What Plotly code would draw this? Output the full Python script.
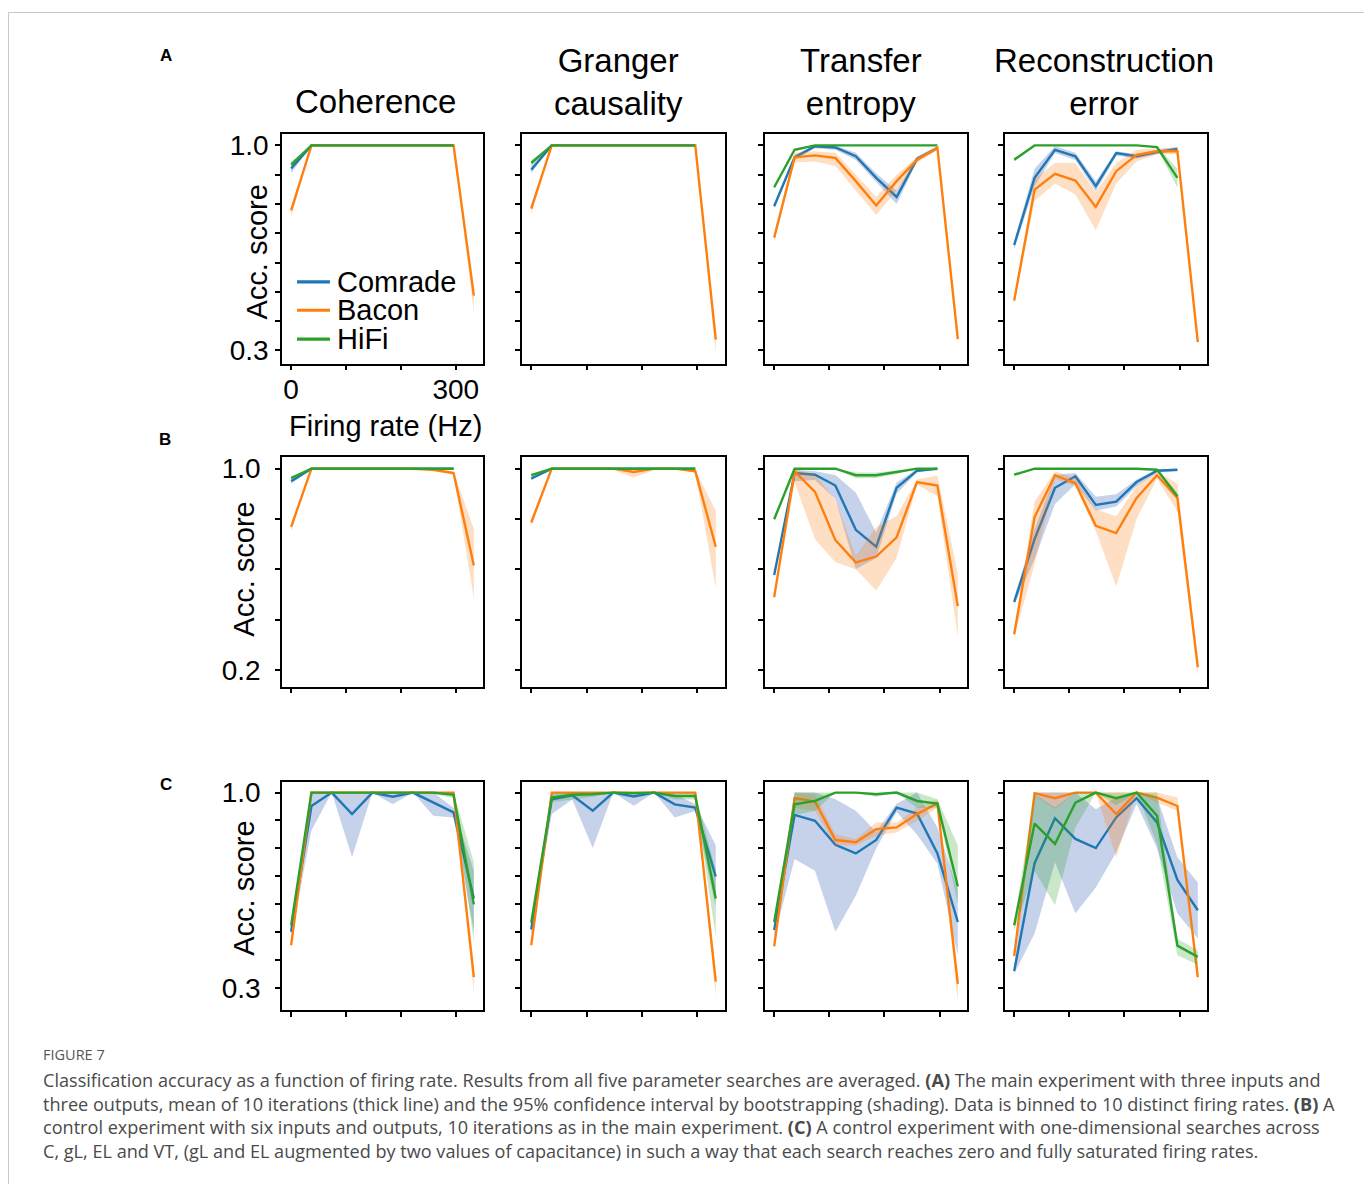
import plotly.graph_objects as go

W, H = 1372, 1184
N = None

# ---------------- data ----------------
FIRING_RATE_HZ = [0, 37, 74, 111, 148, 185, 222, 259, 296, 333]
X_TICKS = [0, 100, 200, 300]
X_TICK_TEXT = ["0", "", "", "300"]
SERIES = ["Comrade", "Bacon", "HiFi"]
COLORS = {"Comrade": "#1f77b4", "Bacon": "#ff7f0e", "HiFi": "#2ca02c"}
BAND_COLORS = {"Comrade": "rgba(50,90,180,0.28)", "Bacon": "rgba(255,127,14,0.25)", "HiFi": "rgba(44,160,44,0.25)"}
COLUMN_TITLES = ["Coherence", "Granger<br>causality", "Transfer<br>entropy", "Reconstruction<br>error"]
ROW_LETTERS = ["A", "B", "C"]
Y_TICKS_A = [0.3, 0.4, 0.5, 0.6, 0.7, 0.8, 0.9, 1.0]
Y_TEXT_A = ["0.3", "", "", "", "", "", "", "1.0"]
Y_TICKS_B = [0.2, 0.4, 0.6, 0.8, 1.0]
Y_TEXT_B = ["0.2", "", "", "", "1.0"]
Y_TICKS_C = [0.3, 0.4, 0.5, 0.6, 0.7, 0.8, 0.9, 1.0]
Y_TEXT_C = ["0.3", "", "", "", "", "", "", "1.0"]

# Row A - main experiment
A_COH_COMRADE    = [0.921, 1, 1, 1, 1, 1, 1, 1, 1, N]
A_COH_COMRADE_LO = [0.905, 1, 1, 1, 1, 1, 1, 1, 1, N]
A_COH_COMRADE_HI = [0.935, 1, 1, 1, 1, 1, 1, 1, 1, N]
A_COH_BACON      = [0.778, 1, 1, 1, 1, 1, 1, 1, 1, 0.487]
A_COH_BACON_LO   = [0.755, 1, 1, 1, 1, 1, 1, 1, 0.995, 0.430]
A_COH_BACON_HI   = [0.790, 1, 1, 1, 1, 1, 1, 1, 1, 0.500]
A_COH_HIFI       = [0.934, 1, 1, 1, 1, 1, 1, 1, 1, N]
A_COH_HIFI_LO    = [0.922, 1, 1, 1, 1, 1, 1, 1, 1, N]
A_COH_HIFI_HI    = [0.945, 1, 1, 1, 1, 1, 1, 1, 1, N]

A_GC_COMRADE    = [0.917, 1, 1, 1, 1, 1, 1, 1, 1, N]
A_GC_COMRADE_LO = [0.905, 1, 1, 1, 1, 1, 1, 1, 1, N]
A_GC_COMRADE_HI = [0.930, 1, 1, 1, 1, 1, 1, 1, 1, N]
A_GC_BACON      = [0.784, 1, 1, 1, 1, 1, 1, 1, 1, 0.337]
A_GC_BACON_LO   = [0.765, 1, 1, 1, 1, 1, 1, 1, 1, 0.289]
A_GC_BACON_HI   = [0.800, 1, 1, 1, 1, 1, 1, 1, 1, 0.360]
A_GC_HIFI       = [0.940, 1, 1, 1, 1, 1, 1, 1, 1, N]
A_GC_HIFI_LO    = [0.930, 1, 1, 1, 1, 1, 1, 1, 1, N]
A_GC_HIFI_HI    = [0.950, 1, 1, 1, 1, 1, 1, 1, 1, N]

A_TE_COMRADE    = [0.792, 0.959, 0.997, 0.993, 0.963, 0.889, 0.824, 0.954, 0.991, N]
A_TE_COMRADE_LO = [0.785, 0.950, 0.990, 0.985, 0.950, 0.875, 0.800, 0.945, 0.985, N]
A_TE_COMRADE_HI = [0.800, 0.967, 1.000, 1.000, 0.975, 0.905, 0.845, 0.962, 0.997, N]
A_TE_BACON      = [0.685, 0.959, 0.966, 0.957, 0.878, 0.795, 0.878, 0.951, 0.991, 0.339]
A_TE_BACON_LO   = [0.675, 0.942, 0.945, 0.930, 0.845, 0.762, 0.845, 0.940, 0.985, 0.330]
A_TE_BACON_HI   = [0.695, 0.975, 0.980, 0.975, 0.900, 0.825, 0.900, 0.960, 0.997, 0.345]
A_TE_HIFI       = [0.857, 0.985, 1.0, 1.0, 1.0, 0.999, 1.0, 1.0, 1.0, N]
A_TE_HIFI_LO    = [0.850, 0.980, 1.0, 1.0, 1.0, 0.997, 1.0, 1.0, 1.0, N]
A_TE_HIFI_HI    = [0.864, 0.990, 1.0, 1.0, 1.0, 1.0, 1.0, 1.0, 1.0, N]

A_RE_COMRADE    = [0.660, 0.889, 0.985, 0.963, 0.861, 0.974, 0.963, 0.977, 0.988, N]
A_RE_COMRADE_LO = [0.645, 0.860, 0.974, 0.950, 0.843, 0.965, 0.955, 0.970, 0.982, N]
A_RE_COMRADE_HI = [0.675, 0.920, 0.997, 0.975, 0.878, 0.980, 0.970, 0.985, 0.995, N]
A_RE_BACON      = [0.470, 0.849, 0.903, 0.880, 0.790, 0.912, 0.968, 0.980, 0.980, 0.328]
A_RE_BACON_LO   = [0.460, 0.810, 0.870, 0.832, 0.710, 0.870, 0.945, 0.970, 0.970, 0.320]
A_RE_BACON_HI   = [0.480, 0.885, 0.940, 0.940, 0.840, 0.940, 0.985, 0.990, 0.990, 0.335]
A_RE_HIFI       = [0.951, 1.0, 1.0, 1.0, 1.0, 1.0, 1.0, 0.994, 0.889, N]
A_RE_HIFI_LO    = [0.945, 1.0, 1.0, 1.0, 1.0, 1.0, 1.0, 0.990, 0.855, N]
A_RE_HIFI_HI    = [0.957, 1.0, 1.0, 1.0, 1.0, 1.0, 1.0, 0.998, 0.920, N]

# Row B - six inputs and outputs
B_COH_COMRADE    = [0.950, 1, 1, 1, 1, 1, 1, 1, 1, N]
B_COH_COMRADE_LO = [0.940, 1, 1, 1, 1, 1, 1, 1, 1, N]
B_COH_COMRADE_HI = [0.960, 1, 1, 1, 1, 1, 1, 1, 1, N]
B_COH_BACON      = [0.769, 1, 1, 1, 1, 1, 1, 0.996, 0.983, 0.615]
B_COH_BACON_LO   = [0.749, 1, 1, 1, 1, 1, 1, 0.990, 0.975, 0.484]
B_COH_BACON_HI   = [0.780, 1, 1, 1, 1, 1, 1, 1.000, 0.990, 0.760]
B_COH_HIFI       = [0.963, 1, 1, 1, 1, 1, 1, 1, 1, N]
B_COH_HIFI_LO    = [0.955, 1, 1, 1, 1, 1, 1, 1, 1, N]
B_COH_HIFI_HI    = [0.970, 1, 1, 1, 1, 1, 1, 1, 1, N]

B_GC_COMRADE    = [0.961, 1, 1, 1, 1, 1, 1, 1, 1, N]
B_GC_COMRADE_LO = [0.953, 1, 1, 1, 1, 1, 1, 1, 1, N]
B_GC_COMRADE_HI = [0.968, 1, 1, 1, 1, 1, 1, 1, 1, N]
B_GC_BACON      = [0.786, 1, 1, 1, 1, 0.987, 1, 1, 0.990, 0.690]
B_GC_BACON_LO   = [0.770, 1, 1, 1, 0.995, 0.965, 0.995, 1, 0.985, 0.523]
B_GC_BACON_HI   = [0.800, 1, 1, 1, 1, 1, 1, 1, 0.995, 0.832]
B_GC_HIFI       = [0.974, 1, 1, 1, 1, 1, 1, 1, 1, N]
B_GC_HIFI_LO    = [0.968, 1, 1, 1, 1, 1, 1, 1, 1, N]
B_GC_HIFI_HI    = [0.980, 1, 1, 1, 1, 1, 1, 1, 1, N]

B_TE_COMRADE    = [0.578, 0.983, 0.976, 0.933, 0.757, 0.690, 0.924, 0.992, 1.0, N]
B_TE_COMRADE_LO = [0.570, 0.950, 0.955, 0.880, 0.600, 0.645, 0.900, 0.985, 1.0, N]
B_TE_COMRADE_HI = [0.585, 0.995, 0.990, 0.975, 0.905, 0.746, 0.945, 0.998, 1.0, N]
B_TE_BACON      = [0.490, 0.989, 0.908, 0.716, 0.628, 0.651, 0.727, 0.947, 0.933, 0.454]
B_TE_BACON_LO   = [0.480, 0.945, 0.720, 0.628, 0.600, 0.515, 0.645, 0.937, 0.890, 0.333]
B_TE_BACON_HI   = [0.500, 1.000, 0.976, 0.876, 0.654, 0.767, 0.812, 0.957, 0.973, 0.583]
B_TE_HIFI       = [0.799, 1.0, 1.0, 1.0, 0.974, 0.974, 0.987, 1.0, 1.0, N]
B_TE_HIFI_LO    = [0.795, 1.0, 1.0, 1.0, 0.962, 0.963, 0.980, 1.0, 1.0, N]
B_TE_HIFI_HI    = [0.805, 1.0, 1.0, 1.0, 0.985, 0.985, 0.993, 1.0, 1.0, N]

B_RE_COMRADE    = [0.471, 0.720, 0.924, 0.970, 0.856, 0.869, 0.947, 0.992, 0.996, N]
B_RE_COMRADE_LO = [0.458, 0.640, 0.860, 0.938, 0.833, 0.850, 0.930, 0.985, 0.990, N]
B_RE_COMRADE_HI = [0.485, 0.760, 0.976, 0.983, 0.888, 0.898, 0.957, 0.998, 1.000, N]
B_RE_BACON      = [0.342, 0.808, 0.974, 0.942, 0.773, 0.744, 0.884, 0.974, 0.884, 0.212]
B_RE_BACON_LO   = [0.330, 0.620, 0.960, 0.930, 0.752, 0.532, 0.800, 0.960, 0.830, 0.175]
B_RE_BACON_HI   = [0.355, 0.870, 0.990, 0.962, 0.840, 0.811, 0.930, 0.990, 0.940, 0.228]
B_RE_HIFI       = [0.976, 1.0, 1.0, 1.0, 1.0, 1.0, 1.0, 0.996, 0.891, N]
B_RE_HIFI_LO    = [0.970, 1.0, 1.0, 1.0, 1.0, 1.0, 1.0, 0.992, 0.878, N]
B_RE_HIFI_HI    = [0.982, 1.0, 1.0, 1.0, 1.0, 1.0, 1.0, 1.000, 0.904, N]

# Row C - one-dimensional searches
C_COH_COMRADE    = [0.501, 0.952, 1.0, 0.923, 1.0, 0.985, 1.0, 0.964, 0.929, 0.620]
C_COH_COMRADE_LO = [0.480, 0.864, 1.0, 0.768, 1.0, 0.958, 1.0, 0.917, 0.911, 0.500]
C_COH_COMRADE_HI = [0.525, 1.000, 1.0, 1.000, 1.0, 1.000, 1.0, 1.000, 0.946, 0.720]
C_COH_BACON      = [0.453, 1, 1, 1, 1, 1, 1, 1, 1, 0.338]
C_COH_BACON_LO   = [0.440, 1, 1, 1, 1, 1, 1, 1, 0.995, 0.280]
C_COH_BACON_HI   = [0.465, 1, 1, 1, 1, 1, 1, 1, 1, 0.360]
C_COH_HIFI       = [0.524, 1, 1, 1, 1, 1, 1, 1, 0.992, 0.599]
C_COH_HIFI_LO    = [0.510, 1, 1, 1, 1, 1, 1, 0.995, 0.980, 0.465]
C_COH_HIFI_HI    = [0.540, 1, 1, 1, 1, 1, 1, 1, 1, 0.750]

C_GC_COMRADE    = [0.509, 0.976, 0.990, 0.935, 1.0, 0.986, 1.0, 0.958, 0.946, 0.699]
C_GC_COMRADE_LO = [0.490, 0.923, 0.975, 0.801, 1.0, 0.953, 1.0, 0.911, 0.934, 0.590]
C_GC_COMRADE_HI = [0.525, 1.000, 1.000, 1.000, 1.0, 1.000, 1.0, 0.995, 0.958, 0.810]
C_GC_BACON      = [0.453, 1, 1, 1, 1, 1, 1, 1, 1, 0.322]
C_GC_BACON_LO   = [0.440, 1, 1, 1, 1, 1, 1, 1, 0.995, 0.270]
C_GC_BACON_HI   = [0.465, 1, 1, 1, 1, 1, 1, 1, 1, 0.350]
C_GC_HIFI       = [0.533, 0.982, 0.992, 0.994, 1.0, 0.998, 1.0, 0.988, 0.988, 0.620]
C_GC_HIFI_LO    = [0.520, 0.965, 0.975, 0.985, 1.0, 0.990, 1.0, 0.975, 0.975, 0.485]
C_GC_HIFI_HI    = [0.548, 0.995, 1.000, 1.000, 1.0, 1.000, 1.0, 0.998, 0.998, 0.720]

C_TE_COMRADE    = [0.507, 0.920, 0.899, 0.813, 0.782, 0.830, 0.946, 0.925, 0.782, 0.536]
C_TE_COMRADE_LO = [0.483, 0.762, 0.720, 0.501, 0.630, 0.800, 0.930, 0.850, 0.745, 0.417]
C_TE_COMRADE_HI = [0.530, 1.000, 1.000, 0.976, 0.935, 0.860, 0.960, 1.000, 0.875, 0.650]
C_TE_BACON      = [0.449, 0.980, 0.968, 0.830, 0.822, 0.869, 0.875, 0.923, 0.961, 0.314]
C_TE_BACON_LO   = [0.440, 0.946, 0.935, 0.810, 0.810, 0.845, 0.857, 0.899, 0.946, 0.250]
C_TE_BACON_HI   = [0.460, 1.000, 0.994, 0.851, 0.834, 0.893, 0.893, 0.946, 0.976, 0.340]
C_TE_HIFI       = [0.536, 0.958, 0.970, 1.0, 1.0, 0.994, 1.0, 0.970, 0.961, 0.663]
C_TE_HIFI_LO    = [0.525, 0.920, 0.935, 1.0, 1.0, 0.985, 1.0, 0.945, 0.946, 0.600]
C_TE_HIFI_HI    = [0.548, 1.000, 1.000, 1.0, 1.0, 1.000, 1.0, 1.000, 0.976, 0.810]

C_RE_COMRADE    = [0.360, 0.747, 0.908, 0.834, 0.801, 0.911, 0.980, 0.893, 0.687, 0.578]
C_RE_COMRADE_LO = [0.350, 0.495, 0.750, 0.566, 0.660, 0.786, 0.960, 0.800, 0.566, 0.477]
C_RE_COMRADE_HI = [0.375, 1.000, 1.000, 1.000, 0.940, 0.982, 0.994, 0.982, 0.768, 0.678]
C_RE_BACON      = [0.414, 0.998, 0.980, 1.0, 1.0, 0.923, 1.0, 0.982, 0.952, 0.338]
C_RE_BACON_LO   = [0.400, 0.990, 0.940, 1.0, 1.0, 0.768, 1.0, 0.964, 0.935, 0.310]
C_RE_BACON_HI   = [0.430, 1.000, 1.000, 1.0, 1.0, 1.000, 1.0, 1.000, 0.982, 0.365]
C_RE_HIFI       = [0.524, 0.889, 0.816, 0.964, 1.0, 0.980, 1.0, 0.917, 0.451, 0.411]
C_RE_HIFI_LO    = [0.505, 0.720, 0.596, 0.875, 1.0, 0.955, 1.0, 0.816, 0.417, 0.383]
C_RE_HIFI_HI    = [0.540, 0.994, 0.947, 1.000, 1.0, 1.000, 1.0, 1.000, 0.475, 0.435]

CAPTION_LABEL = "FIGURE 7"
CAPTION_LINES = [
    "Classification accuracy as a function of firing rate. Results from all five parameter searches are averaged. <b>(A)</b> The main experiment with three inputs and",
    "three outputs, mean of 10 iterations (thick line) and the 95% confidence interval by bootstrapping (shading). Data is binned to 10 distinct firing rates. <b>(B)</b> A",
    "control experiment with six inputs and outputs, 10 iterations as in the main experiment. <b>(C)</b> A control experiment with one-dimensional searches across",
    "C, gL, EL and VT, (gL and EL augmented by two values of capacitance) in such a way that each search reaches zero and fully saturated firing rates.",
]

# ---------------- assembly ----------------
g = globals()
PANEL_KEYS = ["COH", "GC", "TE", "RE"]
SERIES_KEYS = {"Comrade": "COMRADE", "Bacon": "BACON", "HiFi": "HIFI"}

FONT = "Liberation Sans, Arial, sans-serif"
CAP_FONT = "Open Sans, Noto Sans, sans-serif"

# the page body adds an 8px margin; compensate so page pixels match
OFF = 8

def px_x(x):
    return (x - OFF) / W

def px_y(y):
    return 1 - (y - OFF) / H

# layout geometry in page pixels
COL_PX = [(282, 483), (522, 725), (765, 967), (1005, 1207)]
ROW_PX = [(131, 361.7), (456, 686.7), (782.3, 1012.3)]
X_RANGE = [-16.65, 349.65]
Y_RANGES = [[0.255, 1.038], [0.134, 1.045], [0.219, 1.039]]
Y_TICKVALS = [Y_TICKS_A, Y_TICKS_B, Y_TICKS_C]
Y_TICKTEXT = [Y_TEXT_A, Y_TEXT_B, Y_TEXT_C]
Y_STANDOFF = [1, 9, 9]

fig = go.Figure()
axes_layout = {}

for r, letter in enumerate(ROW_LETTERS):
    for c, pk in enumerate(PANEL_KEYS):
        idx = r * 4 + c + 1
        xa = "x" if idx == 1 else f"x{idx}"
        ya = "y" if idx == 1 else f"y{idx}"
        for s in SERIES:
            base = f"{letter}_{pk}_{SERIES_KEYS[s]}"
            mean, lo, hi = g[base], g[base + "_LO"], g[base + "_HI"]
            keep = [i for i, v in enumerate(mean) if v is not None]
            bx = [FIRING_RATE_HZ[i] for i in keep]
            fig.add_trace(go.Scatter(
                x=bx + bx[::-1],
                y=[hi[i] for i in keep] + [lo[i] for i in keep][::-1],
                fill="toself", fillcolor=BAND_COLORS[s], line=dict(width=0),
                mode="lines", hoverinfo="skip", showlegend=False,
                xaxis=xa, yaxis=ya))
            fig.add_trace(go.Scatter(
                x=bx, y=[mean[i] for i in keep], mode="lines",
                line=dict(color=COLORS[s], width=2.4), name=s,
                showlegend=False, xaxis=xa, yaxis=ya))
        x0, x1 = COL_PX[c]
        y0, y1 = ROW_PX[r]
        first = (c == 0)
        axes_layout["xaxis" if idx == 1 else f"xaxis{idx}"] = dict(
            domain=[px_x(x0), px_x(x1)], anchor=ya, range=X_RANGE,
            showline=True, mirror=True, linecolor="black", linewidth=1.6,
            ticks="outside", ticklen=5, tickwidth=1.5, tickcolor="black",
            tickvals=X_TICKS, ticktext=X_TICK_TEXT,
            showticklabels=(r == 0 and c == 0), ticklabelstandoff=-5,
            tickfont=dict(size=28, color="black", family=FONT),
            showgrid=False, zeroline=False, fixedrange=True)
        axes_layout["yaxis" if idx == 1 else f"yaxis{idx}"] = dict(
            domain=[px_y(y1), px_y(y0)], anchor=xa, range=Y_RANGES[r],
            showline=True, mirror=True, linecolor="black", linewidth=1.6,
            ticks="outside", ticklen=5, tickwidth=1.5, tickcolor="black",
            tickvals=Y_TICKVALS[r], ticktext=Y_TICKTEXT[r],
            showticklabels=first, ticklabelstandoff=Y_STANDOFF[r],
            tickfont=dict(size=28, color="black", family=FONT),
            showgrid=False, zeroline=False, fixedrange=True)

annotations = []

def px_ann(text, x, y, size, xanchor="center", yanchor="middle", **kw):
    d = dict(text=text, x=px_x(x), y=px_y(y), xref="paper", yref="paper",
             xanchor=xanchor, yanchor=yanchor, showarrow=False,
             font=dict(size=size, color=kw.pop("color", "black"), family=kw.pop("family", FONT)))
    d.update(kw)
    annotations.append(d)

# column titles
TITLE_X = [375, 618, 861, 1104]
for t, tx in zip(COLUMN_TITLES, TITLE_X):
    if "<br>" in t:
        px_ann(t, tx, 78, 33)
    else:
        px_ann(t, tx, 98, 33)

# panel letters
for letter, (lx, ly) in zip(ROW_LETTERS, [(166, 52), (165, 438), (166, 785)]):
    px_ann(f"<b>{letter}</b>", lx, ly, 17)

# y-axis titles
for (ax_x, ax_y) in [(257, 250), (244, 569), (244, 890)]:
    px_ann("Acc. score", ax_x, ax_y, 29, textangle=-90)

# x-axis title
px_ann("Firing rate (Hz)", 386, 424, 29)

# legend (text; swatches as shapes)
shapes = []
LEG_Y = [279.5, 308, 337]
for s, ly in zip(SERIES, LEG_Y):
    px_ann(s, 336, ly, 29, xanchor="left", borderpad=0)
    shapes.append(dict(type="line", xref="paper", yref="paper",
                       x0=px_x(297), x1=px_x(330), y0=px_y(ly), y1=px_y(ly),
                       line=dict(color=COLORS[s], width=3.2)))

# caption
px_ann(CAPTION_LABEL, 41, 1057, 14.5, xanchor="left", color="#555555", family=CAP_FONT)
for i, line in enumerate(CAPTION_LINES):
    px_ann(line, 41, 1082 + 24 * i, 18.1, xanchor="left", color="#4a4a4a", family=CAP_FONT)

# figure frame
shapes.append(dict(type="rect", xref="paper", yref="paper",
                   x0=px_x(8.5), x1=px_x(1366), y0=-0.02, y1=px_y(8.5),
                   line=dict(color="#c8c8c8", width=1), fillcolor="rgba(0,0,0,0)", layer="below"))

fig.update_layout(
    width=W, height=H, margin=dict(l=0, r=0, t=0, b=0),
    paper_bgcolor="white", plot_bgcolor="white",
    showlegend=False, annotations=annotations, shapes=shapes,
    font=dict(family=FONT, color="black"),
    **axes_layout)

fig.write_html("out.html")
